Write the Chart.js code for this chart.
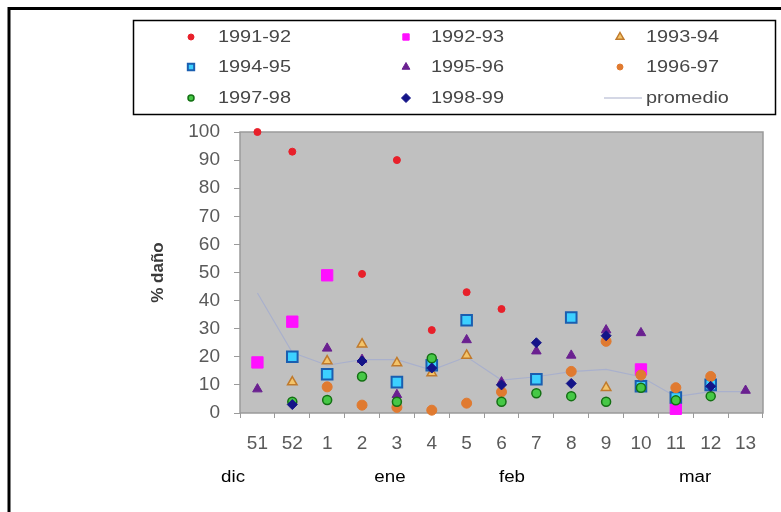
<!DOCTYPE html>
<html lang="es">

<head>
    <meta charset="UTF-8">
    <title>% daño por semana</title>
    <script src="https://cdn.jsdelivr.net/npm/chart.js"></script>
    <style>
        body { margin: 0; background: #fff; }
        #wrap { position: relative; width: 781px; height: 512px; }
    </style>
</head>

<body>
    <div id="wrap">
        <canvas id="danoChart" width="781" height="512"></canvas>
    </div>
    <script>
        // semanas (eje x)
        const semanas = ['51', '52', '1', '2', '3', '4', '5', '6', '7', '8', '9', '10', '11', '12', '13'];

        // % daño por temporada
        const t1991 = [100, 93, null, 49.5, 90, 29.5, 43, 37, null, null, null, null, null, null, null];
        const t1992 = [18, 32.5, 49, null, null, null, null, null, null, null, null, 15.5, 1.5, null, null];
        const t1993 = [null, 11, 18.5, 24.5, 17.8, 14.2, 20.5, null, null, null, 9, null, null, null, null];
        const t1994 = [null, 20, 13.8, null, 11, 17, 33, null, 12, 34, null, 9.5, 5.5, 10, null];
        const t1995 = [8.5, null, 23, 19, 6.5, null, 26, 11, 22, 20.5, 29.5, 28.5, null, null, 8];
        const t1996 = [null, null, 9.3, 2.8, 2, 1, 3.5, 7.5, null, 14.8, 25.5, 13.5, 9, 13, null];
        const t1997 = [null, 4, 4.6, 13, 4, 19.5, null, 4, 7, 6, 4, 9, 4.5, 6, null];
        const t1998 = [null, 3, null, 18.5, null, 16, null, 10, 25, 10.5, 27.5, null, null, 9.5, null];
        const promedio = [42.7, 21.5, 17, 19, 19, 15.3, 20, 11.7, 12.9, 14.7, 15.5, 12.9, 5.8, 7.6, 7.6];

        // meses bajo el eje
        const meses = ['dic', 'ene', 'feb', 'mar'];
        const mesPos = [-0.7, 3.8, 7.3, 12.55]; // en unidades de categoría

        const FUENTE = '"Liberation Sans", Arial, sans-serif';

        const series = [
            { label: '1991-92', data: t1991, pointStyle: 'circle', radius: 3.5, bg: '#e8202a', border: '#e8202a', bw: 1 },
            { label: '1992-93', data: t1992, pointStyle: 'rect', radius: 8, bg: '#ff10ff', border: '#ff10ff', bw: 1 },
            { label: '1993-94', data: t1993, pointStyle: 'triangle', radius: 5.5, bg: '#f3c46a', border: '#c07a2c', bw: 1.5 },
            { label: '1994-95', data: t1994, pointStyle: 'rect', radius: 7.5, bg: '#3cd0ff', border: '#1a5eb0', bw: 2 },
            { label: '1995-96', data: t1995, pointStyle: 'triangle', radius: 5.5, bg: '#6a2090', border: '#6a2090', bw: 1 },
            { label: '1996-97', data: t1996, pointStyle: 'circle', radius: 5, bg: '#e07a30', border: '#e07a30', bw: 1 },
            { label: '1997-98', data: t1997, pointStyle: 'circle', radius: 4.5, bg: '#46c846', border: '#137013', bw: 1.5 },
            { label: '1998-99', data: t1998, pointStyle: 'rectRot', radius: 5, bg: '#141488', border: '#141488', bw: 1 }
        ];

        const datasets = series.map((s, i) => ({
            label: s.label,
            data: s.data,
            showLine: false,
            clip: false,
            pointStyle: s.pointStyle,
            pointRadius: s.radius,
            pointHoverRadius: s.radius,
            backgroundColor: s.bg,
            borderColor: s.border,
            pointBorderWidth: s.bw,
            order: 20 - i
        }));

        datasets.push({
            label: 'promedio',
            data: promedio,
            borderColor: '#a9b0cc',
            borderWidth: 1.2,
            pointRadius: 0,
            tension: 0,
            fill: false,
            order: 50
        });

        // dibuja un marcador de la leyenda
        function marca(ctx, s, x, y, r) {
            ctx.save();
            ctx.fillStyle = s.bg;
            ctx.strokeStyle = s.border;
            ctx.lineWidth = s.bw;
            ctx.beginPath();
            if (s.pointStyle === 'circle') {
                ctx.arc(x, y, r, 0, Math.PI * 2);
            } else if (s.pointStyle === 'rect') {
                const h = r * Math.SQRT1_2;
                ctx.rect(x - h, y - h, 2 * h, 2 * h);
            } else if (s.pointStyle === 'triangle') {
                ctx.moveTo(x, y - r);
                ctx.lineTo(x + r * 0.866, y + r * 0.5);
                ctx.lineTo(x - r * 0.866, y + r * 0.5);
                ctx.closePath();
            } else if (s.pointStyle === 'rectRot') {
                ctx.moveTo(x, y - r);
                ctx.lineTo(x + r, y);
                ctx.lineTo(x, y + r);
                ctx.lineTo(x - r, y);
                ctx.closePath();
            }
            ctx.fill();
            ctx.stroke();
            ctx.restore();
        }

        // texto algo ensanchado
        function texto(ctx, t, x, y, align) {
            const sx = 1.17;
            ctx.save();
            ctx.translate(x, y);
            ctx.scale(sx, 1);
            ctx.textAlign = align;
            ctx.fillText(t, 0, 0);
            ctx.restore();
        }

        const fondoPlugin = {
            id: 'fondo',
            beforeDraw(chart) {
                const { ctx, chartArea: a } = chart;
                ctx.save();
                ctx.fillStyle = '#c0c0c0';
                ctx.fillRect(a.left, a.top, a.right - a.left, a.bottom - a.top);
                ctx.strokeStyle = '#9a9a9a';
                ctx.lineWidth = 1.5;
                ctx.strokeRect(a.left, a.top, a.right - a.left, a.bottom - a.top);
                ctx.restore();
            },
            afterDraw(chart) {
                const ctx = chart.ctx;
                const xs = chart.scales.x;
                ctx.save();

                // marco exterior
                ctx.strokeStyle = '#000';
                ctx.lineWidth = 3;
                ctx.beginPath();
                ctx.moveTo(9, 520);
                ctx.lineTo(9, 8.5);
                ctx.lineTo(790, 8.5);
                ctx.stroke();

                // cuadro de leyenda
                ctx.lineWidth = 1.5;
                ctx.strokeRect(133.5, 20.5, 642, 94);

                const cols = [[191, 218], [406, 431], [620, 646]];
                const rows = [37, 67, 98];
                ctx.font = '17px ' + FUENTE;
                ctx.textBaseline = 'middle';
                const items = series.concat([{ label: 'promedio', line: true }]);
                items.forEach((s, i) => {
                    const c = cols[i % 3];
                    const y = rows[Math.floor(i / 3)];
                    if (s.line) {
                        ctx.strokeStyle = '#a9b0cc';
                        ctx.lineWidth = 1.2;
                        ctx.beginPath();
                        ctx.moveTo(604, y);
                        ctx.lineTo(642, y);
                        ctx.stroke();
                    } else {
                        marca(ctx, s, c[0], y, s.pointStyle === 'circle' ? 3 : 4.5);
                    }
                    ctx.fillStyle = '#474747';
                    texto(ctx, s.label, c[1], y, 'left');
                });

                // meses
                ctx.fillStyle = '#000';
                ctx.font = '16px ' + FUENTE;
                meses.forEach((m, i) => {
                    texto(ctx, m, xs.getPixelForValue(mesPos[i]), 478, 'center');
                });
                ctx.restore();
            }
        };

        new Chart(document.getElementById('danoChart'), {
            type: 'line',
            data: { labels: semanas, datasets: datasets },
            plugins: [fondoPlugin],
            options: {
                responsive: false,
                animation: false,
                layout: { padding: { left: 140, top: 132, right: 18, bottom: 59 } },
                plugins: {
                    legend: { display: false },
                    tooltip: { enabled: false }
                },
                scales: {
                    x: {
                        type: 'category',
                        offset: true,
                        afterFit(axis) { axis.height = 40; },
                        grid: {
                            offset: true,
                            drawOnChartArea: false,
                            tickLength: 5,
                            color: '#9a9a9a'
                        },
                        border: { display: false },
                        ticks: {
                            color: '#5a5a5a',
                            padding: 14,
                            maxRotation: 0,
                            autoSkip: false,
                            font: { family: FUENTE, size: 19 }
                        }
                    },
                    y: {
                        min: 0,
                        max: 100,
                        afterFit(axis) { axis.width = 100; },
                        grid: {
                            drawOnChartArea: false,
                            tickLength: 6,
                            color: '#9a9a9a'
                        },
                        border: { display: false },
                        ticks: {
                            stepSize: 10,
                            color: '#5a5a5a',
                            padding: 14,
                            font: { family: FUENTE, size: 19 }
                        },
                        title: {
                            display: true,
                            text: '% daño',
                            color: '#3a3a3a',
                            padding: { top: 8, bottom: 4 },
                            font: { family: FUENTE, size: 17, weight: 'bold' }
                        }
                    }
                }
            }
        });
    </script>
</body>

</html>
